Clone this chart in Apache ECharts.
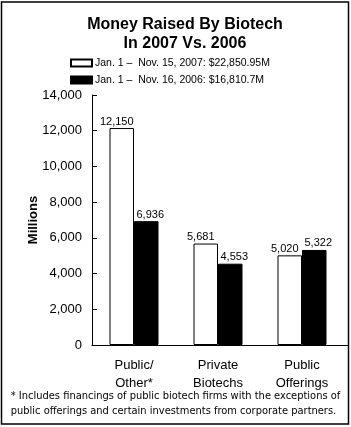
<!DOCTYPE html>
<html>
<head>
<meta charset="utf-8">
<script src="https://cdn.jsdelivr.net/npm/echarts@6/dist/echarts.min.js"></script>
<style>
  html, body { margin: 0; padding: 0; background: #fff; }
  #chart { width: 351px; height: 427px; }
</style>
</head>
<body>
<div id="chart"></div>
<script>
var categories = ['Public/\nOther*', 'Private\nBiotechs', 'Public\nOfferings'];
var name2007 = 'Jan. 1 \u2013  Nov. 15, 2007: $22,850.95M';
var name2006 = 'Jan. 1 \u2013  Nov. 16, 2006: $16,810.7M';
var values2007 = [12150, 5681, 5020];
var values2006 = [6936, 4553, 5322];
var yTicks = [0, 2000, 4000, 6000, 8000, 10000, 12000, 14000];

var font = 'Liberation Sans, Arial, sans-serif';

function fmt(v) {
  return Number(v).toLocaleString('en-US');
}

var chart = echarts.init(document.getElementById('chart'), null, { renderer: 'canvas' });

var option = {
  backgroundColor: '#fff',
  animation: false,
  title: {
    text: 'Money Raised By Biotech\nIn 2007 Vs. 2006',
    left: 185,
    top: 15,
    textAlign: 'center',
    padding: 0,
    textStyle: {
      fontFamily: font,
      fontSize: 16,
      fontWeight: 'bold',
      color: '#000',
      lineHeight: 19
    }
  },
  legend: {
    orient: 'vertical',
    left: 70,
    top: 57,
    padding: 0,
    itemGap: 5,
    itemWidth: 21,
    itemHeight: 7,
    icon: 'rect',
    selectedMode: false,
    textStyle: { fontFamily: font, fontSize: 10.5, lineHeight: 12, color: '#000', padding: [0, 0, 0, -2] },
    data: [name2007, name2006]
  },
  grid: {
    left: 92,
    right: 7,
    top: 95,
    bottom: 82,
    containLabel: false
  },
  xAxis: {
    type: 'category',
    data: categories,
    axisLine: { lineStyle: { color: '#000', width: 1 } },
    axisTick: { show: false },
    axisLabel: {
      color: '#000',
      fontFamily: font,
      fontSize: 13,
      lineHeight: 18,
      margin: 11,
      interval: 0
    }
  },
  yAxis: {
    type: 'value',
    min: yTicks[0],
    max: yTicks[yTicks.length - 1],
    interval: 2000,
    name: 'Millions',
    nameLocation: 'middle',
    nameGap: 52,
    nameMoveOverlap: false,
    nameTextStyle: { fontFamily: font, fontSize: 13, fontWeight: 'bold', color: '#000' },
    axisLine: { show: true, lineStyle: { color: '#000', width: 1 } },
    axisTick: { show: true, inside: true, length: 5, lineStyle: { color: '#000' } },
    splitLine: { show: false },
    axisLabel: {
      color: '#000',
      fontFamily: font,
      fontSize: 13,
      margin: 10,
      formatter: fmt
    }
  },
  series: [
    {
      name: name2007,
      type: 'bar',
      data: values2007,
      barWidth: 24.5,
      barGap: '0%',
      itemStyle: { color: '#fff', borderColor: '#000', borderWidth: 1 },
      label: {
        show: true,
        position: 'top',
        distance: 1,
        offset: [-5, 0],
        color: '#000',
        fontFamily: font,
        fontSize: 11,
        formatter: function (p) { return fmt(p.value); }
      }
    },
    {
      name: name2006,
      type: 'bar',
      data: values2006,
      barWidth: 24.5,
      barGap: '0%',
      itemStyle: { color: '#000', borderColor: '#000', borderWidth: 1 },
      label: {
        show: true,
        position: 'top',
        distance: 1,
        offset: [4, 0],
        color: '#000',
        fontFamily: font,
        fontSize: 11,
        formatter: function (p) { return fmt(p.value); }
      }
    }
  ],
  graphic: [
    {
      type: 'rect',
      shape: { x: 1.5, y: 2, width: 347, height: 422 },
      style: { fill: null, stroke: '#000', lineWidth: 1.5 },
      silent: true
    },
    {
      type: 'line',
      shape: { x1: 344, y1: 345.5, x2: 348, y2: 345.5 },
      style: { stroke: '#000', lineWidth: 1 },
      silent: true
    },
    {
      type: 'text',
      left: 'center',
      top: 389,
      style: {
        text: '* Includes financings of public biotech firms with the exceptions of\npublic offerings and certain investments from corporate partners.',
        fontFamily: 'DejaVu Sans Condensed, DejaVu Sans',
        fontSize: 11,
        lineHeight: 15,
        fill: '#000',
        align: 'center'
      },
      silent: true
    }
  ]
};

chart.setOption(option);
</script>
</body>
</html>
